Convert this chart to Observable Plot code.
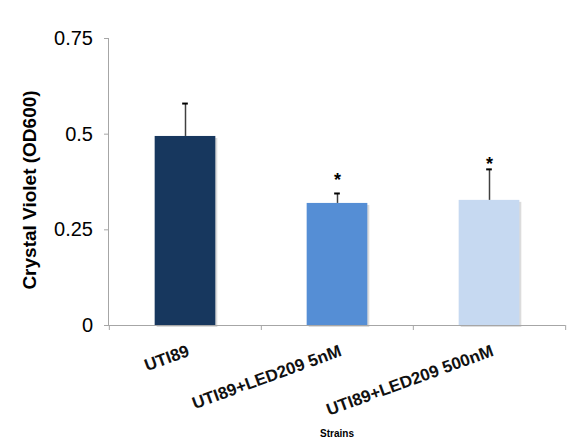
<!DOCTYPE html>
<html><head><meta charset="utf-8">
<script src="https://cdn.jsdelivr.net/npm/d3@7"></script>
<script src="https://cdn.jsdelivr.net/npm/@observablehq/plot@0.6"></script>
<style>body{margin:0;background:#fff;overflow:hidden}</style>
</head><body><div id="chart"></div>
<script>
const strains = ["UTI89", "UTI89+LED209 5nM", "UTI89+LED209 500nM"];
const values = [0.494, 0.319, 0.327];
const errors = [0.086, 0.026, 0.081];
const stars = ["", "*", "*"];
const starY = [null, 0.389, 0.431];
const yTicks = [0, 0.25, 0.5, 0.75];
const barColors = ["#17375E", "#558ED5", "#C6D9F1"];
const yLabel = "Crystal Violet (OD600)";
const xLabel = "Strains";

const data = strains.map((s, i) => ({strain: s, value: values[i], err: errors[i], star: stars[i], starY: starY[i]}));

const W = 567, H = 445, ml = 108, mr = 2, mt = 38, mb = 120;
const bw = (W - ml - mr) / strains.length;
const barInset = (bw - 61) / 2;
const capInset = (bw - 6) / 2;
const axisColor = "#a6a6a6";

const chart = Plot.plot({
  width: W, height: H,
  marginLeft: ml, marginRight: mr, marginTop: mt, marginBottom: mb,
  style: {fontFamily: "'Liberation Sans', Arial, sans-serif", background: "#fff"},
  x: {type: "band", domain: strains, padding: 0, axis: null},
  y: {domain: [0, 0.75], axis: null},
  color: {domain: strains, range: barColors},
  marks: [
    Plot.barY(data, {x: "strain", y: "value", fill: "#9a9a9a", fillOpacity: 0.35, insetLeft: barInset, insetRight: barInset, dx: 2, dy: 2}),
    Plot.barY(data, {x: "strain", y: "value", fill: "strain", insetLeft: barInset, insetRight: barInset}),
    Plot.ruleX(data, {x: "strain", y1: "value", y2: d => d.value + d.err, stroke: "#404040", strokeWidth: 1.5}),
    Plot.tickY(data, {x: "strain", y: d => d.value + d.err, insetLeft: capInset, insetRight: capInset, stroke: "#000", strokeWidth: 2}),
    Plot.text(data.filter(d => d.star), {x: "strain", y: "starY", text: "star", fontSize: 18, fontWeight: "bold", fill: "#000", dy: 4}),
    Plot.frame({anchor: "left", stroke: axisColor}),
    Plot.ruleY([0], {stroke: axisColor}),
    Plot.ruleX(strains, {x: d => d, y1: 0, y2: 0, dx: -bw / 2, insetBottom: -5, stroke: axisColor}),
    Plot.ruleX(strains.slice(-1), {x: d => d, y1: 0, y2: 0, dx: bw / 2, insetBottom: -5, stroke: axisColor}),
    Plot.axisY({ticks: yTicks, tickFormat: d => String(d), tickSize: 4, tickPadding: 11.5, fontSize: 20, stroke: axisColor, fill: "#000", label: null}),
    Plot.text(data, {x: "strain", y: d => 0, text: "strain", rotate: -20, textAnchor: "end", lineAnchor: "bottom", dx: 5, dy: 30, fontSize: 17, fontWeight: "bold", fill: "#111"}),
    Plot.text([yLabel], {frameAnchor: "left", textAnchor: "middle", lineAnchor: "middle", dx: -79, dy: 8, rotate: -90, fontSize: 19, fontWeight: "bold", fill: "#000"}),
    Plot.text([xLabel], {frameAnchor: "bottom", dy: 111, fontSize: 10, fontWeight: "bold", fill: "#000"})
  ]
});
document.getElementById("chart").appendChild(chart);
</script>
</body></html>
